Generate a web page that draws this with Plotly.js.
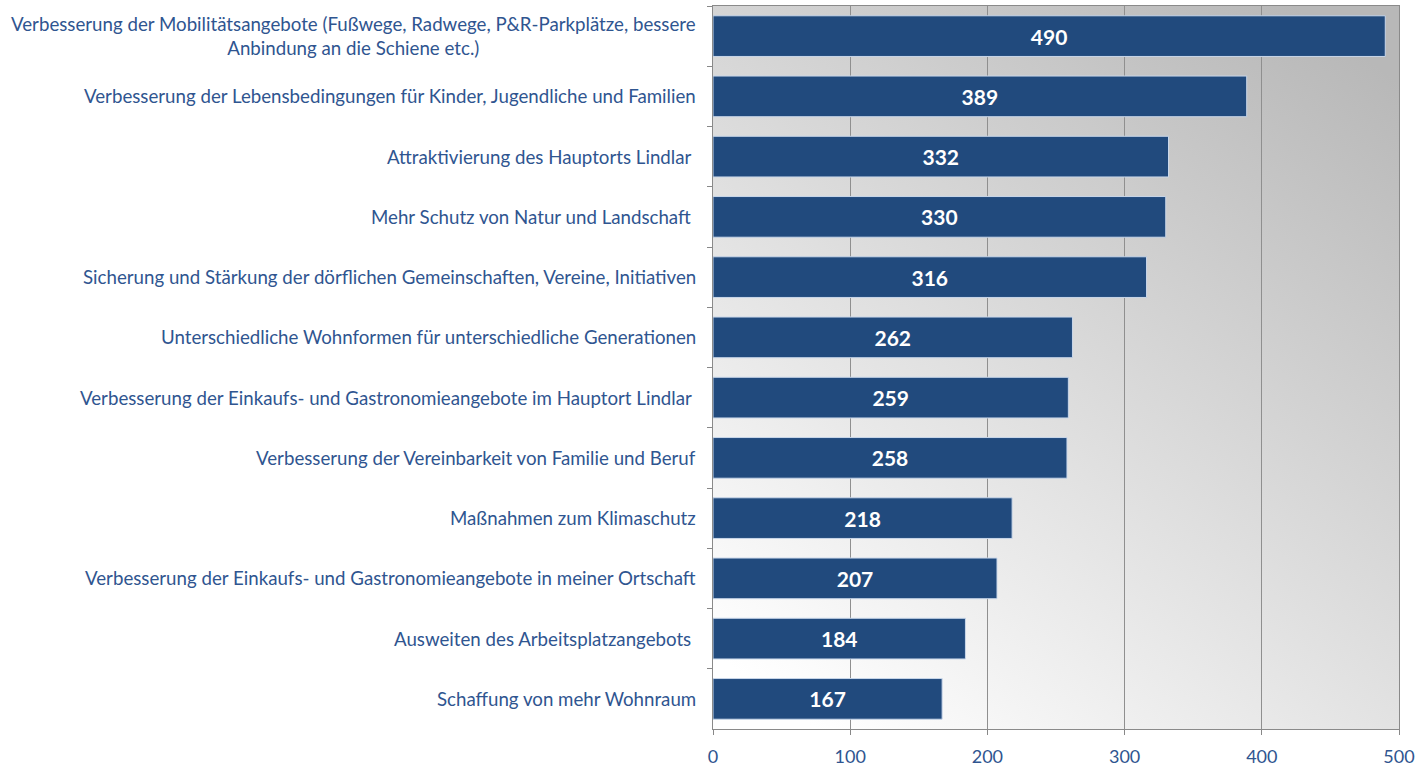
<!DOCTYPE html>
<html>
<head>
<meta charset="utf-8">
<script src="https://cdn.plot.ly/plotly-3.0.1.min.js"></script>
<style>html,body{margin:0;padding:0;background:#fff;}#chart{width:1415px;height:768px;}</style>
</head>
<body>
<div id="chart"></div>
<script>
var categories = [
  "Verbesserung der Mobilitätsangebote (Fußwege, Radwege, P&R-Parkplätze, bessere<br>Anbindung an die Schiene etc.)",
  "Verbesserung der Lebensbedingungen für Kinder, Jugendliche und Familien",
  "Attraktivierung des Hauptorts Lindlar ",
  "Mehr Schutz von Natur und Landschaft ",
  "Sicherung und Stärkung der dörflichen Gemeinschaften, Vereine, Initiativen",
  "Unterschiedliche Wohnformen für unterschiedliche Generationen",
  "Verbesserung der Einkaufs- und Gastronomieangebote im Hauptort Lindlar ",
  "Verbesserung der Vereinbarkeit von Familie und Beruf",
  "Maßnahmen zum Klimaschutz",
  "Verbesserung der Einkaufs- und Gastronomieangebote in meiner Ortschaft",
  "Ausweiten des Arbeitsplatzangebots ",
  "Schaffung von mehr Wohnraum"
];
var values = [490, 389, 332, 330, 316, 262, 259, 258, 218, 207, 184, 167];
var xTicks = [0, 100, 200, 300, 400, 500];

var labelColor = "#2f5590";
var fontFam = "Lato, 'Noto Sans', sans-serif";

var gradSvg = '<svg xmlns="http://www.w3.org/2000/svg" width="100" height="100" preserveAspectRatio="none">' +
  '<defs><linearGradient id="g" x1="0.15" y1="1" x2="0.85" y2="0">' +
  '<stop offset="0" stop-color="#ffffff"/><stop offset="1" stop-color="#b8b8b8"/></linearGradient></defs>' +
  '<rect width="100" height="100" fill="url(#g)"/></svg>';
var gradUri = "data:image/svg+xml;charset=utf-8," + encodeURIComponent(gradSvg);

var ids = categories.map(function(c, i){ return "c" + i; });

var trace = {
  type: "bar",
  orientation: "h",
  y: ids,
  x: values,
  marker: {color: "#214a7d", line: {color: "#c9d7ea", width: 1}},
  text: values.map(String),
  textposition: "inside",
  insidetextanchor: "middle",
  textangle: 0,
  textfont: {color: "#ffffff", size: 21, family: fontFam, weight: "bold"},
  hoverinfo: "x+y"
};

var annotations = categories.map(function(c, i){
  return {
    xref: "paper", yref: "y",
    x: 0, y: ids[i],
    xanchor: "right", yanchor: "middle",
    xshift: -15,
    text: c,
    align: "center",
    showarrow: false,
    font: {size: 18.7, color: labelColor, family: fontFam}
  };
});

var layout = {
  width: 1415, height: 768,
  margin: {l: 713, r: 16, t: 6, b: 39},
  paper_bgcolor: "#ffffff",
  plot_bgcolor: "rgba(0,0,0,0)",
  bargap: 0.325,
  showlegend: false,
  font: {family: fontFam, color: labelColor},
  images: [{
    source: gradUri, xref: "paper", yref: "paper",
    x: 0, y: 1, sizex: 1, sizey: 1, xanchor: "left", yanchor: "top",
    sizing: "stretch", layer: "below"
  }],
  xaxis: {
    range: [0, 500],
    tickvals: xTicks,
    ticktext: xTicks.map(String),
    ticks: "outside", ticklen: 5, tickcolor: "#888888",
    ticklabelstandoff: 6,
    showgrid: true, gridcolor: "#8f8f8f", gridwidth: 1,
    showline: true, linecolor: "#8a8a8a", linewidth: 1, mirror: true,
    zeroline: false,
    tickfont: {size: 18, color: labelColor, family: fontFam}
  },
  yaxis: {
    type: "category",
    autorange: "reversed",
    showticklabels: false,
    ticks: "outside", ticklen: 5, tickcolor: "#888888",
    tickson: "boundaries",
    showgrid: false,
    showline: true, linecolor: "#8a8a8a", linewidth: 1, mirror: true,
    zeroline: false
  },
  annotations: annotations
};

Plotly.newPlot("chart", [trace], layout, {displayModeBar: false, staticPlot: true});
</script>
</body>
</html>
